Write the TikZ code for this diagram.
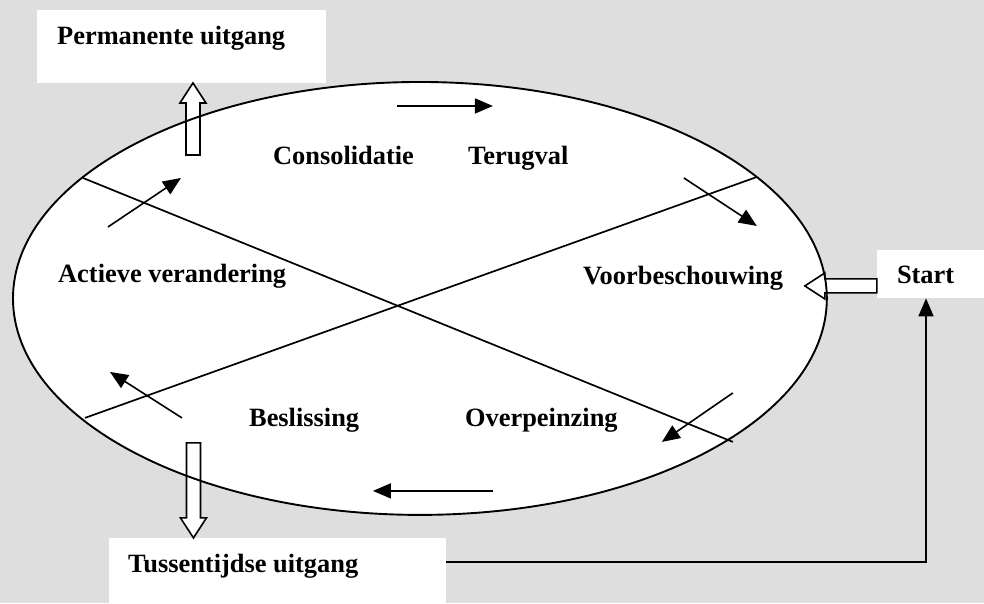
\documentclass[tikz,border=0pt]{standalone}
\usepackage{fontspec}
\setmainfont{Liberation Serif}
\usepackage{xcolor}
\usetikzlibrary{arrows.meta,positioning}
\definecolor{bgGrey}{HTML}{DEDEDE}

\begin{document}
\begin{tikzpicture}[x=1bp,y=-1bp]
    \tikzset{
        lbl/.style={font=\fontsize{26.5}{30}\selectfont\bfseries,inner sep=0pt,anchor=base west},
        whitebox/.style={fill=white,draw=none,anchor=north west,inner sep=0pt},
        arr/.style={line width=1.6bp,-{Triangle[length=18bp,width=15bp]}},
        hollow/.pic={
            \filldraw[fill=white,draw=black,line width=1.6bp] (0,-7) --++(#1-20,0) --++(0,-6) -- (#1,0) -- (#1-20,13) --++(0,-6) -- (0,7) -- cycle;
        }
    }
    \fill[bgGrey] (0,0) rectangle (984,603);
    % boxes for the exits and the start
    \node[whitebox,minimum width=289bp,minimum height=73bp] (perm) at (37,10) {};
    \node[whitebox,minimum width=107bp,minimum height=48bp] (start) at (877,250) {};
    \node[whitebox,minimum width=337bp,minimum height=65bp] (tussen) at (109,538) {};
    \node[lbl] (permtxt) at ([xshift=20bp,yshift=-35bp]perm.north west) {Permanente uitgang};
    \node[lbl] (starttxt) at ([xshift=20bp,yshift=-34bp]start.north west) {Start};
    \node[lbl] (tussentxt) at ([xshift=19bp,yshift=-35bp]tussen.north west) {Tussentijdse uitgang};

    % the cycle
    \fill[white] (420,298.5) ellipse [x radius=407bp,y radius=216.5bp];
    \pic[rotate=90] at (193,155) {hollow=72};
    \pic[rotate=-90] at (193.5,443) {hollow=95};
    \pic[rotate=180] at (877,286) {hollow=72};
    \draw[line width=1.9bp] (420,298.5) ellipse [x radius=407bp,y radius=216.5bp];
    \draw[line width=1.7bp] (83,178) -- (733,442);
    \draw[line width=1.7bp] (85,418) -- (757,177);

    \foreach \xa/\ya/\xb/\yb in {397/106/493/106, 684/178/757/226, 733/393/662/442,
        493/491/373/491, 182/418/110/372, 108/227/181/178}{
        \draw[arr] (\xa,\ya) -- (\xb,\yb);}

    % stages
    \node[lbl] (consol) at (273,165) {Consolidatie};
    \node[lbl] (terug) at (468,165) {Terugval};
    \node[lbl] (voorb) at (583,285) {Voorbeschouwing};
    \node[lbl] (overp) at (465,427) {Overpeinzing};
    \node[lbl] (besl) at (249,427) {Beslissing};
    \node[lbl] (actief) at (58,283) {Actieve verandering};

    \draw[arr] ([yshift=-24bp]tussen.north east) -| ([xshift=-4.5bp]start.south);
\end{tikzpicture}
\end{document}
